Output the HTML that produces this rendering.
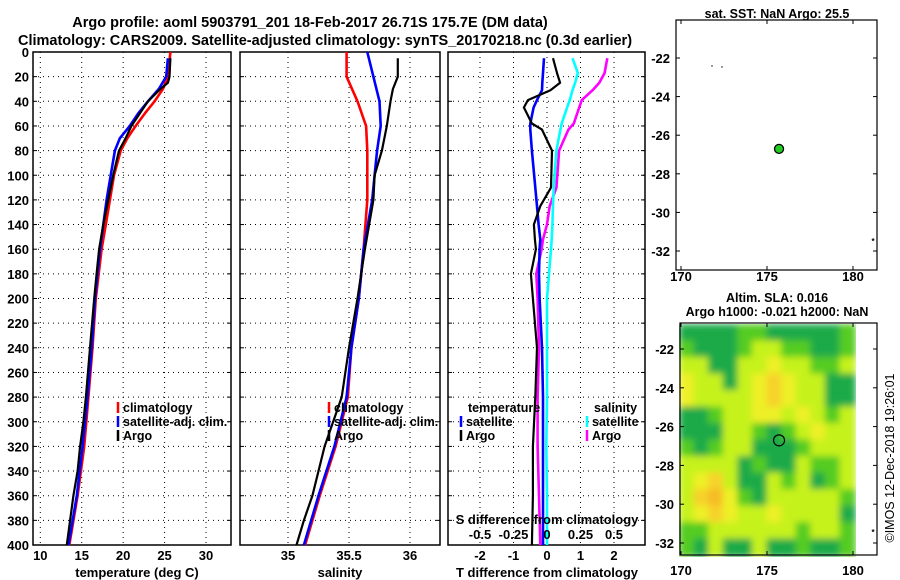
<!DOCTYPE html>
<html><head><meta charset="utf-8"><style>
html,body{margin:0;padding:0;background:#fff;width:900px;height:580px;overflow:hidden}
svg{display:block;font-family:"Liberation Sans",sans-serif;font-weight:bold}
</style></head><body>
<svg id="c" width="900" height="580" viewBox="0 0 900 580">
<text x="310" y="27" font-size="14.5" text-anchor="middle">Argo profile: aoml 5903791_201 18-Feb-2017 26.71S 175.7E (DM data)</text>
<text x="325" y="45" font-size="14.5" text-anchor="middle">Climatology: CARS2009. Satellite-adjusted climatology: synTS_20170218.nc (0.3d earlier)</text>
</svg>
<script>
// ---------- data ----------
const depthTicks=[0,20,40,60,80,100,120,140,160,180,200,220,240,260,280,300,320,340,360,380,400];
const tempTicks=[10,15,20,25,30];
const salTicks=[35,35.5,36];
const tdiffTicks=[-2,-1,0,1,2];
const sdiffTicks=[-0.5,-0.25,0,0.25,0.5];
const argoTDepth=[5,20,25,30,40,50,60,70,80,100,120,140,160,180,200,240,280,300,320,340,360,380,400];
const argoT=[25.7,25.6,25.4,24.5,23,22,21,20.3,19.5,18.8,18.2,17.6,17.1,16.8,16.5,16.0,15.5,15.2,14.8,14.5,14.0,13.6,13.2];
const climTDepth=[0,20,30,40,50,60,70,80,100,120,140,160,200,240,280,320,360,400];
const climT=[25.7,25.4,24.8,23.8,22.6,21.5,20.5,19.7,18.9,18.4,17.9,17.4,16.7,16.3,15.8,15.3,14.5,13.5];
const satTDepth=[5,20,30,40,50,60,70,80,100,120,140,160,200,240,280,320,360,400];
const satT=[25.4,25.2,24.3,23,21.8,20.8,19.6,19,18.5,18.0,17.6,17.2,16.6,16.2,15.7,15.1,14.4,13.4];
const salDepth=[0,20,40,60,80,100,120,160,200,240,280,320,360,400];
const climS=[35.48,35.48,35.57,35.64,35.65,35.65,35.65,35.62,35.58,35.52,35.49,35.39,35.26,35.14];
const satS=[35.65,35.70,35.75,35.76,35.73,35.71,35.69,35.62,35.58,35.52,35.48,35.38,35.25,35.13];
const argoSDepth=[5,20,30,40,60,80,100,120,160,200,240,280,320,360,380,400];
const argoS=[35.9,35.9,35.86,35.84,35.81,35.77,35.71,35.70,35.63,35.57,35.50,35.44,35.30,35.20,35.13,35.07];
const dDepth=[5,17,25,31,39,45,58,63,80,110,125,140,152,160,180,200,240,280,320,360,400];
const satTdiff=[-0.09,-0.12,-0.14,-0.15,-0.3,-0.4,-0.5,-0.5,-0.45,-0.35,-0.3,-0.25,-0.2,-0.22,-0.24,-0.22,-0.15,-0.12,-0.12,-0.12,-0.12];
const argoTdiff=[0.18,0.3,0.39,0.1,-0.57,-0.69,-0.45,-0.15,0.15,0.12,-0.2,-0.39,-0.36,-0.33,-0.48,-0.42,-0.3,-0.35,-0.42,-0.42,-0.45];
const satSdiff=[0.19,0.23,0.21,0.19,0.17,0.15,0.11,0.1,0.07,0.05,0.045,0.04,0.035,0.03,0.015,0.0,0.0,0.0,-0.005,0.0,0.0];
const argoSdiff=[0.45,0.43,0.39,0.34,0.26,0.24,0.2,0.16,0.09,0.07,0.02,0.0,-0.03,-0.04,-0.08,-0.07,-0.06,-0.07,-0.07,-0.06,-0.05];
const latTicks=[-22,-24,-26,-28,-30,-32];
const lonTicks=[170,175,180];
const argoLon=175.7, argoLat=-26.71;
// ---------- helpers ----------
const svg=document.getElementById('c');const NS='http://www.w3.org/2000/svg';
function mk(t,a,p){const e=document.createElementNS(NS,t);for(const k in a)e.setAttribute(k,a[k]);(p||svg).appendChild(e);return e;}
function txt(x,y,s,size,anchor){const e=mk('text',{x:x,y:y,'font-size':size||12.5,'text-anchor':anchor||'middle'});e.textContent=s;return e;}
const Y0=52,Y1=545;
const yD=d=>Y0+(d/400)*(Y1-Y0);
const xT=v=>40.3+(v-10)*8.285;
const xS=v=>288+(v-35)*122;
const xTd=v=>547+v*33.5;
const xSd=v=>547+v*134;
function panel(name,x0,x1,ticks,fx,labels){
  const g=mk('g',{});
  depthTicks.slice(1,-1).forEach(d=>{const l=mk('line',{x1:x0,x2:x1,y1:yD(d),y2:yD(d),stroke:'#000','stroke-width':1,'stroke-dasharray':'1,4'},g);
    mk('line',{x1:x0,x2:x0+4,y1:yD(d),y2:yD(d),stroke:'#000'},g);mk('line',{x1:x1-4,x2:x1,y1:yD(d),y2:yD(d),stroke:'#000'},g);});
  ticks.forEach((t,i)=>{const X=fx(t);const l=mk('line',{x1:X,x2:X,y1:Y0,y2:Y1,stroke:'#000','stroke-width':1,'stroke-dasharray':'1,4'},g);
    const tl=txt(X,560,labels?labels[i]:String(t),13);g.appendChild(tl);});
  const r=mk('rect',{x:x0,y:Y0,width:x1-x0,height:Y1-Y0,fill:'none',stroke:'#000','stroke-width':1.5},g);
  return g;}
function line(name,xs,ds,fx,color,w){const pts=xs.map((v,i)=>fx(v).toFixed(1)+','+yD(ds[i]).toFixed(1)).join(' ');
  const p=mk('polyline',{points:pts,fill:'none',stroke:color,'stroke-width':w||2.6,'stroke-linejoin':'round'});}
function legend(x,y,items){items.forEach((it,i)=>{const yy=y+i*14;mk('line',{x1:x,x2:x,y1:yy-10,y2:yy+1,stroke:it[1],'stroke-width':2.5});const t=txt(x+5,yy,it[0],12.5,'start');});}
depthTicks.forEach(d=>{const t=txt(29,yD(d)+5,String(d),13,'end');});
panel('temperature-panel',33,231,tempTicks,xT);
line('climatology-temperature',climT,climTDepth,xT,'#f00');
line('satellite-temperature',satT,satTDepth,xT,'#00f');
line('argo-temperature',argoT,argoTDepth,xT,'#000',2.2);
let t=txt(137,577,'temperature (deg C)',13);
legend(118,412,[['climatology','#f00'],['satellite-adj. clim.','#00f'],['Argo','#000']]);
panel('salinity-panel',240,440,salTicks,xS);
line('climatology-salinity',climS,salDepth,xS,'#f00');
line('satellite-salinity',satS,salDepth,xS,'#00f');
line('argo-salinity',argoS,argoSDepth,xS,'#000',2.2);
t=txt(340,577,'salinity',13);
legend(329,412,[['climatology','#f00'],['satellite-adj. clim.','#00f'],['Argo','#000']]);
panel('difference-panel',448,645,tdiffTicks,xTd);
line('argo-salinity-diff',argoSdiff,dDepth,xSd,'#f0f');
line('satellite-salinity-diff',satSdiff,dDepth,xSd,'#0ff');
line('satellite-temperature-diff',satTdiff,dDepth,xTd,'#00f');
line('argo-temperature-diff',argoTdiff,dDepth,xTd,'#000',2.2);
t=txt(547,577,'T difference from climatology',13);
t=txt(547,524,'S difference from climatology',13);
sdiffTicks.forEach(v=>{const e=txt(xSd(v),539,String(v),13);});
t=txt(468,412,'temperature',12.5,'start');
legend(461,426,[['satellite','#00f'],['Argo','#000']]);
t=txt(594,412,'salinity',12.5,'start');
legend(587,426,[['satellite','#0ff'],['Argo','#f0f']]);
const lonX=v=>681+(v-170)*17.2;
function mapFrame(name,x0,y0,x1,y1,latY,lblY){
  const g=mk('g',{});
  mk('rect',{x:x0,y:y0,width:x1-x0,height:y1-y0,fill:'none',stroke:'#000','stroke-width':1.2},g);
  latTicks.forEach(v=>{const Y=latY(v);mk('line',{x1:x0,x2:x0+4,y1:Y,y2:Y,stroke:'#000'},g);mk('line',{x1:x1-4,x2:x1,y1:Y,y2:Y,stroke:'#000'},g);
    const e=txt(x0-6,Y+5,String(v),13,'end');g.appendChild(e);});
  lonTicks.forEach(v=>{const X=lonX(v);mk('line',{x1:X,x2:X,y1:y0,y2:y0+4,stroke:'#000'},g);mk('line',{x1:X,x2:X,y1:y1-4,y2:y1,stroke:'#000'},g);
    const e=txt(X,lblY,String(v),13);g.appendChild(e);});
  return g;}
const latY1=v=>58+(-22-v)*19.3, latY2=v=>349+(-22-v)*19.4;
const hm=["GGGGggGGGGGg","gGGGgyyggGGg","yyGGyyYyyggy","YyyGyYoYyyGG","YyyyyYoYyyGG","GGgyyYYyYygy","GGGyygGgyYyy","gGgyyGGGgyyy","yyyyGgGGyggy","yYoyGGygyGgy","yoOYgGyyyyyg","yYoYyyYyyyyG","ggyyyyyygyyg","gGyGGyGGgGGg"];
const col={G:'#1faa48',g:'#55cc22',y:'#c6f21a',Y:'#eef028',o:'#f7d22a',O:'#f5bb28'};
const defs=mk('defs',{});const f=mk('filter',{id:'bl',x:'0',y:'0',width:'1',height:'1'},defs);mk('feGaussianBlur',{stdDeviation:'3.5'},f);
const hg=mk('g',{filter:'url(#bl)'});
const cw=(855-680)/12,ch=(556-325)/14;
mk('rect',{x:680,y:325,width:175,height:231,fill:'#c6f21a'},hg);
hm.forEach((row,r)=>{for(let c=0;c<12;c++){mk('rect',{x:680+c*cw-1,y:325+r*ch-1,width:cw+2,height:ch+2,fill:col[row[c]]},hg);}});
mapFrame('sst-map',676,20,877,270,latY1,281);
mk('circle',{cx:712,cy:66,r:0.7,fill:'#000'});mk('circle',{cx:722,cy:67,r:0.7,fill:'#000'});
t=txt(873,244,'*',8);
const c1=mk('circle',{cx:lonX(argoLon),cy:latY1(argoLat),r:4.5,fill:'#2c2',stroke:'#000','stroke-width':1.3});
t=txt(777,18,'sat. SST: NaN Argo: 25.5',12.5);
mapFrame('sla-map',680,323,877,555,latY2,575);
const c2=mk('circle',{cx:lonX(argoLon),cy:latY2(argoLat),r:5.5,fill:'none',stroke:'#000','stroke-width':1.2});
t=txt(873,535,'*',8);
t=txt(777,302,'Altim. SLA: 0.016',12.5);
t=txt(777,316,'Argo h1000: -0.021 h2000: NaN',12.5);
t=txt(0,0,'©IMOS 12-Dec-2018 19:26:01',12.5);t.setAttribute('transform','translate(894,458) rotate(-90)');t.setAttribute('font-weight','normal');
</script>
</body></html>
